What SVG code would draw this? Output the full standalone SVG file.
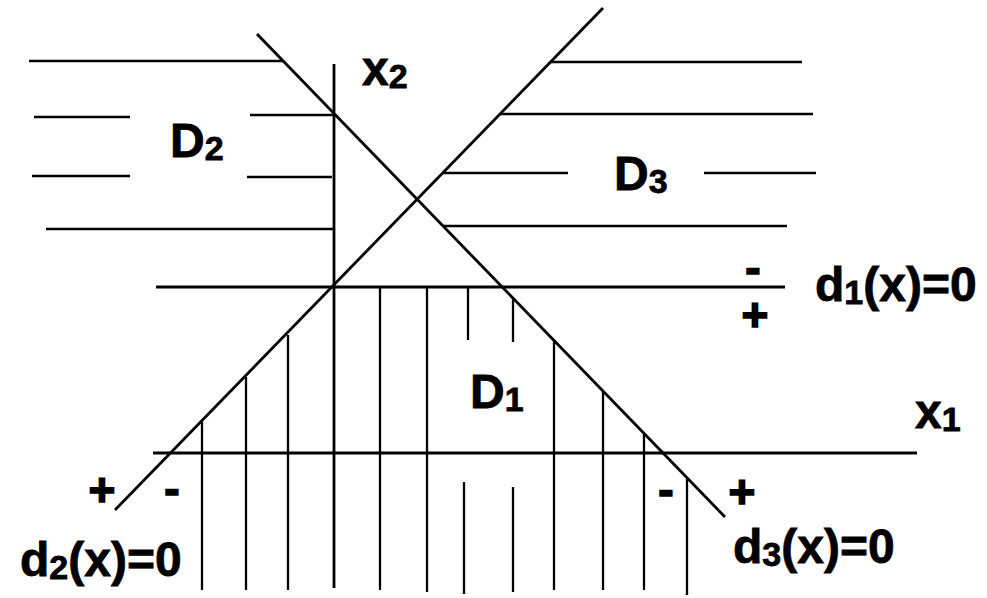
<svg xmlns="http://www.w3.org/2000/svg" width="987" height="598" viewBox="0 0 987 598">
<style>
.ln{stroke:#000;stroke-width:2.8;fill:none;stroke-linecap:butt}
.ht{stroke:#000;stroke-width:2.3;fill:none}
.t{font-family:"Liberation Sans",Arial,sans-serif;font-weight:bold;font-size:48px;fill:#000;stroke:#000;stroke-width:0.8}
.s{font-size:34px}
.sg{font-family:"Liberation Sans",Arial,sans-serif;font-weight:bold;font-size:46px;fill:#000;stroke:#000;stroke-width:1.6;text-anchor:middle}
</style>
<rect width="987" height="598" fill="#fff"/>
<g id="hatch-D2">
<line class="ht" x1="29" y1="61" x2="283" y2="61"/>
<line class="ht" x1="34" y1="117" x2="130" y2="117"/>
<line class="ht" x1="250" y1="115" x2="334" y2="115"/>
<line class="ht" x1="32" y1="176" x2="130" y2="176"/>
<line class="ht" x1="247" y1="177" x2="332" y2="177"/>
<line class="ht" x1="46" y1="229" x2="334" y2="229"/>
</g>
<g id="hatch-D3">
<line class="ht" x1="551" y1="62" x2="802" y2="62"/>
<line class="ht" x1="500" y1="114" x2="813" y2="114"/>
<line class="ht" x1="443" y1="173" x2="568" y2="173"/>
<line class="ht" x1="704" y1="173" x2="816" y2="173"/>
<line class="ht" x1="443" y1="226" x2="787" y2="226"/>
</g>
<g id="hatch-D1">
<line class="ht" x1="202" y1="422" x2="202" y2="590"/>
<line class="ht" x1="246" y1="377" x2="246" y2="590"/>
<line class="ht" x1="288" y1="335" x2="288" y2="590"/>
<line class="ht" x1="380" y1="287" x2="380" y2="590"/>
<line class="ht" x1="427" y1="287" x2="427" y2="592"/>
<line class="ht" x1="468" y1="287" x2="468" y2="340"/>
<line class="ht" x1="464" y1="482" x2="464" y2="594"/>
<line class="ht" x1="513" y1="297" x2="513" y2="342"/>
<line class="ht" x1="513" y1="487" x2="513" y2="592"/>
<line class="ht" x1="554" y1="341" x2="554" y2="590"/>
<line class="ht" x1="603" y1="391" x2="603" y2="590"/>
<line class="ht" x1="644" y1="433" x2="644" y2="590"/>
<line class="ht" x1="687" y1="478" x2="687" y2="595"/>
</g>
<g id="axes">
<line class="ln" x1="334" y1="64" x2="334" y2="588"/>
<line class="ln" x1="153" y1="453" x2="917" y2="453"/>
</g>
<g id="decision-lines">
<line id="d1" class="ln" x1="156" y1="287" x2="785" y2="287"/>
<line id="d2" class="ln" x1="603" y1="8" x2="115" y2="510"/>
<line id="d3" class="ln" x1="257" y1="34" x2="725" y2="517"/>
</g>
<g id="labels">
<text class="t" x="362" y="85">x<tspan class="s" dy="3">2</tspan></text>
<text class="t" x="915" y="428">x<tspan class="s" dy="3">1</tspan></text>
<text class="t" x="170" y="157">D<tspan class="s" dy="3">2</tspan></text>
<text class="t" x="614" y="190">D<tspan class="s" dy="3">3</tspan></text>
<text class="t" x="470" y="408">D<tspan class="s" dy="3">1</tspan></text>
<text class="t" x="815" y="301">d<tspan class="s" dy="3">1</tspan><tspan dy="-3">(x)=0</tspan></text>
<text class="t" x="20" y="576">d<tspan class="s" dy="3">2</tspan><tspan dy="-3">(x)=0</tspan></text>
<text class="t" x="733" y="563">d<tspan class="s" dy="3">3</tspan><tspan dy="-3">(x)=0</tspan></text>
</g>
<g id="signs">
<text class="sg" x="753" y="283">-</text>
<text class="sg" x="755" y="331">+</text>
<text class="sg" x="102" y="506">+</text>
<text class="sg" x="172" y="504">-</text>
<text class="sg" x="666" y="505">-</text>
<text class="sg" x="742" y="508">+</text>
</g>
</svg>
